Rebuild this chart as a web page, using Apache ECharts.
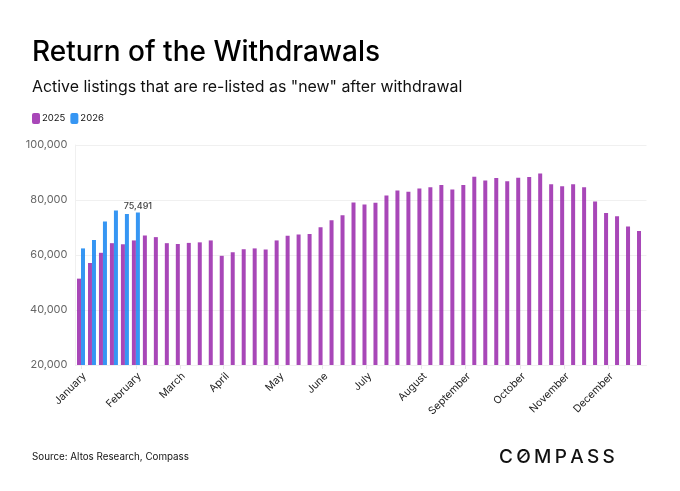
<!DOCTYPE html>
<html><head><meta charset="utf-8">
<script src="https://cdn.jsdelivr.net/npm/echarts@6/dist/echarts.min.js"></script>
<style>html,body{margin:0;padding:0;background:#fff}#c{width:680px;height:491px}</style>
</head><body><div id="c"></div>
<script>
const monthLabels = ["January","","","","","February","","","","March","","","","April","","","","","May","","","","June","","","","July","","","","","August","","","","September","","","","","October","","","","November","","","","December","","",""];
const values2025 = [51400,57100,60800,64300,63900,65300,67100,66500,64300,64000,64400,64600,65300,59700,61000,62100,62400,62000,65300,67000,67500,67600,70100,72600,74500,79100,78400,79000,81600,83500,83000,84200,84600,85500,83800,85500,88500,87100,88000,86800,88100,88400,89600,85700,85000,85700,84600,79500,75300,74100,70400,68700];
const values2026 = [62400,65450,72200,76200,74900,75491];
const yTicks = {min:20000,max:100000,interval:20000};
const titleText = "Return of the Withdrawals";
const subtitleText = 'Active listings that are re-listed as "new" after withdrawal';
const sourceText = "Source: Altos Research, Compass";
const FONT = "Inter";
const chart = echarts.init(document.getElementById('c'),null,{renderer:'canvas'});
chart.setOption({
  animation:false,
  backgroundColor:'#fff',
  textStyle:{fontFamily:FONT},
  grid:{left:75.5,right:33.5,top:145,height:220},
  legend:{left:27,top:108,itemWidth:8,itemHeight:11,itemGap:5,
    icon:'roundRect',
    textStyle:{fontSize:9.5,color:'#111',fontFamily:FONT,padding:[1,0,0,-3]},
    data:['2025','2026']},
  xAxis:{type:'category',data:monthLabels,
    axisLine:{show:true,lineStyle:{color:'#f0f0f0'}},
    axisTick:{show:true,length:4,lineStyle:{color:'#e8e8e8'},alignWithLabel:true,
      interval:(i,v)=>v!==''},
    axisLabel:{interval:0,rotate:45,fontSize:10.5,color:'#222',margin:13,padding:[0,-5,0,0],fontFamily:FONT}},
  yAxis:{type:'value',min:yTicks.min,max:yTicks.max,interval:yTicks.interval,
    axisLine:{show:true,lineStyle:{color:'#f0f0f0'}},axisTick:{show:false},
    splitLine:{lineStyle:{color:'#f0f0f0'}},
    axisLabel:{fontSize:11,color:'#666',margin:8,padding:[3,0,0,0],fontFamily:FONT,
      formatter:v=>v.toLocaleString('en-US')}},
  series:[
    {name:'2025',type:'bar',data:values2025,barWidth:4,barGap:'0%',
     itemStyle:{color:'#951fa8',opacity:0.82}},
    {name:'2026',type:'bar',barWidth:4,barGap:'0%',
     data:values2026.map((v,i)=>i===values2026.length-1?{value:v,label:{show:true,position:'top',distance:2,fontSize:9,fontWeight:500,color:'#111',fontFamily:FONT,formatter:p=>p.value.toLocaleString('en-US')}}:v),
     itemStyle:{color:'#0a7ff0',opacity:0.82}}
  ],
  graphic:[
    {type:'text',left:32,top:39,style:{text:titleText,font:'500 28px '+FONT,fill:'#000'}},
    {type:'text',left:32,top:79,style:{text:subtitleText,font:'400 15.9px '+FONT,fill:'#111'}},
    {type:'text',left:32,top:452,style:{text:sourceText,font:'400 9.8px '+FONT,fill:'#111'}},
    {type:'text',left:499,top:448,style:{text:'C\u2009O\u2009M\u2009P\u2009A\u2009S\u2009S',font:'500 19px '+FONT,fill:'#111'}},
    {type:'line',shape:{x1:520,y1:459,x2:526,y2:453},style:{stroke:'#111',lineWidth:1.5}}
  ]
});
</script></body></html>
